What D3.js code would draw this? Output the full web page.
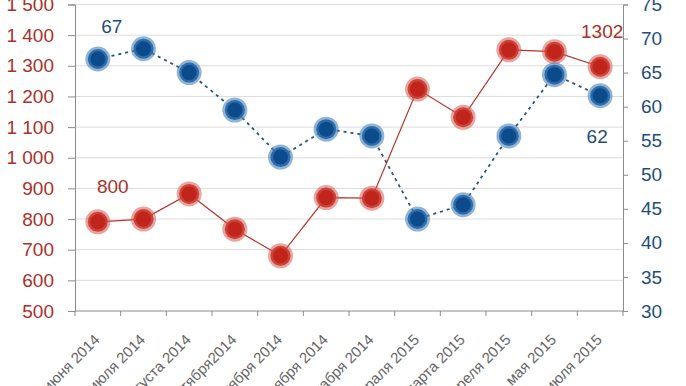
<!DOCTYPE html>
<html><head><meta charset="utf-8">
<script src="https://cdn.jsdelivr.net/npm/d3@7"></script>
<style>
html,body{margin:0;padding:0;background:#fff;}
svg{display:block;font-family:"Liberation Sans",Arial,sans-serif;}
</style></head>
<body><svg id="c" width="686" height="386"></svg>
<script>
const categories = ["июня 2014","июля 2014","августа 2014","сентября2014","октября 2014","ноября 2014","декабря 2014","февраля 2015","марта 2015","апреля 2015","мая 2015","июля 2015"];
const redValues  = [791, 800, 882, 767, 680, 870, 868, 1224, 1132, 1352, 1346, 1297];
const blueValues = [67, 68.5, 65, 59.5, 52.6, 56.7, 55.7, 43.5, 45.6, 55.7, 64.7, 61.6];
const leftTicks  = [500,600,700,800,900,1000,1100,1200,1300,1400,1500];
const rightTicks = [30,35,40,45,50,55,60,65,70,75];
const redLabels  = [{i:0, text:"800"}, {i:11, text:"1302"}];
const blueLabels = [{i:0, text:"67"}, {i:11, text:"62"}];

const svg = d3.select("#c");
const L = 75, R = 623, T = 4.5, B = 311;
const x = d3.scaleBand().domain(categories).range([L, R]);
const yL = d3.scaleLinear().domain([500,1500]).range([B, T]);
const yR = d3.scaleLinear().domain([30,75]).range([B, T]);
const cx = d => x(d) + x.bandwidth()/2;

// gridlines
svg.append("g").selectAll("line").data(leftTicks.slice(1)).join("line")
  .attr("x1", L).attr("x2", R).attr("y1", d=>yL(d)).attr("y2", d=>yL(d))
  .attr("stroke", "#dcdcdc").attr("stroke-width", 1);

// left axis
const gl = svg.append("g").attr("transform", `translate(${L},0)`)
  .call(d3.axisLeft(yL).tickValues(leftTicks).tickSize(7).tickPadding(14)
    .tickFormat(d => d>=1000 ? (Math.floor(d/1000)+" "+String(d%1000).padStart(3,"0")) : d));
gl.select(".domain").attr("stroke", "#8c8c8c");
gl.selectAll(".tick line").attr("stroke", "#8c8c8c");
gl.selectAll("text").attr("fill", "#a8322b").attr("font-size", 19).attr("font-family", "Liberation Sans, Arial, sans-serif");

// right axis
const gr = svg.append("g").attr("transform", `translate(${R},0)`)
  .call(d3.axisRight(yR).tickValues(rightTicks).tickSize(5).tickPadding(13));
gr.select(".domain").attr("stroke", "#8c8c8c");
gr.selectAll(".tick line").attr("stroke", "#8c8c8c");
gr.selectAll("text").attr("fill", "#1f4d7a").attr("font-size", 19).attr("font-family", "Liberation Sans, Arial, sans-serif");

// bottom axis
const gb = svg.append("g").attr("transform", `translate(0,${B})`);
gb.append("line").attr("x1", L).attr("x2", R).attr("stroke", "#8c8c8c");
gb.selectAll("line.t").data(categories.concat(["__end"])).join("line").attr("class","t")
  .attr("x1", (d,i)=> L + i*x.bandwidth()).attr("x2", (d,i)=> L + i*x.bandwidth())
  .attr("y1", 0).attr("y2", 5).attr("stroke", "#8c8c8c");
gb.selectAll("text").data(categories).join("text")
  .attr("transform", d => `translate(${cx(d)-1},${26}) rotate(-45)`)
  .attr("text-anchor", "end").attr("dy", "0.35em")
  .attr("font-size", 15).attr("fill", "#666666").text(d => d);

// lines
svg.append("path").datum(redValues)
  .attr("fill", "none").attr("stroke", "#b5322a").attr("stroke-width", 1.2)
  .attr("d", d3.line().x((d,i)=>cx(categories[i])).y(d=>yL(d)));
svg.append("path").datum(blueValues)
  .attr("fill", "none").attr("stroke", "#2a5580").attr("stroke-width", 1.8).attr("stroke-dasharray", "3,4")
  .attr("d", d3.line().x((d,i)=>cx(categories[i])).y(d=>yR(d)));

// markers
svg.append("g").selectAll("circle").data(redValues).join("circle")
  .attr("cx", (d,i)=>cx(categories[i])).attr("cy", d=>yL(d)).attr("r", 10)
  .attr("fill", "#c0241b").attr("stroke", "rgba(214,90,80,0.55)").attr("stroke-width", 5);
svg.append("g").selectAll("circle").data(blueValues).join("circle")
  .attr("cx", (d,i)=>cx(categories[i])).attr("cy", d=>yR(d)).attr("r", 10)
  .attr("fill", "#0b4a8b").attr("stroke", "rgba(70,130,190,0.6)").attr("stroke-width", 5);

// value labels
const redOff = [[15,-29],[2,-29]];
svg.append("g").selectAll("text").data(redLabels).join("text")
  .attr("x", (d,k)=>cx(categories[d.i]) + redOff[k][0]).attr("y", (d,k)=>yL(redValues[d.i]) + redOff[k][1])
  .attr("text-anchor","middle").attr("font-size", 19).attr("fill", "#a8322b").text(d=>d.text);
const blueOff = [[14,-26],[-3,47]];
svg.append("g").selectAll("text").data(blueLabels).join("text")
  .attr("x", (d,k)=>cx(categories[d.i]) + blueOff[k][0]).attr("y", (d,k)=>yR(blueValues[d.i]) + blueOff[k][1])
  .attr("text-anchor","middle").attr("font-size", 19).attr("fill", "#1f4d7a").text(d=>d.text);
</script></body></html>
